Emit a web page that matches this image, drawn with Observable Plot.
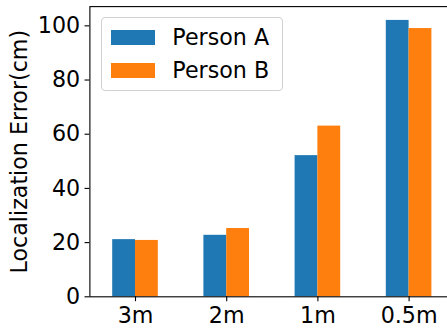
<!DOCTYPE html>
<html>
<head>
<meta charset="utf-8">
<script src="https://cdn.jsdelivr.net/npm/d3@7"></script>
<script src="https://cdn.jsdelivr.net/npm/@observablehq/plot@0.6"></script>
<style>
  html, body { margin: 0; padding: 0; background: white; overflow: hidden; }
  #chart { position: relative; width: 447px; height: 329px; }
  .legend {
    position: absolute; left: 100.5px; top: 17.2px;
    width: 182px; height: 73.7px; box-sizing: border-box;
    padding: 8.1px 0 0 9px;
    border: 1px solid #d0d0d0; border-radius: 4px;
    background: rgba(255,255,255,0.8);
    font-family: "DejaVu Sans", sans-serif; font-size: 22.2px; color: #000;
  }
  .legend .row { display: flex; align-items: center; height: 22px; line-height: 22px; }
  .legend .row + .row { margin-top: 11px; }
  .legend .swatch { width: 44px; height: 15.5px; margin-right: 17.8px; flex: none; }
</style>
</head>
<body>
<div id="chart"></div>
<script>
// Distance settings along the x axis
const categories = ["3m", "2m", "1m", "0.5m"];
const series = ["Person A", "Person B"];
// Localization error in cm, one value per distance
const personA = [21.1, 22.7, 52.1, 102.0];
const personB = [20.8, 25.2, 63.0, 99.0];
const colors = ["#1f77b4", "#ff7f0e"];
const yTicks = [0, 20, 40, 60, 80, 100];

const valuesBySeries = [personA, personB];
const barWidth = 0.25; // each bar takes a quarter of a category slot

const rows = categories.flatMap((cat, i) =>
  series.map((s, j) => ({
    cat, series: s, value: valuesBySeries[j][i],
    x1: i - barWidth + j * barWidth,
    x2: i + j * barWidth
  }))
);

const yMax = d3.max(rows, d => d.value) * 1.05;

const plot = Plot.plot({
  width: 447,
  height: 329,
  marginLeft: 89.4,
  marginRight: -7.2,
  marginTop: 6.1,
  marginBottom: 32.7,
  style: { fontFamily: "DejaVu Sans, sans-serif", fontSize: "22.2px", background: "white", color: "#000" },
  x: { type: "linear", domain: [-0.5, categories.length - 0.5] },
  y: { domain: [0, yMax] },
  color: { domain: series, range: colors },
  marks: [
    Plot.rectY(rows, { x1: "x1", x2: "x2", y1: 0, y2: "value", fill: "series" }),
    Plot.frame({ stroke: "#000", strokeWidth: 1.1 }),
    Plot.axisX({
      ticks: d3.range(categories.length),
      tickFormat: i => categories[i],
      tickSize: 4.86, tickPadding: 5.7, label: null, strokeWidth: 1.1
    }),
    Plot.axisY({
      ticks: yTicks, tickSize: 4.86, tickPadding: 4.86, label: null, strokeWidth: 1.1
    }),
    Plot.text(["Localization Error(cm)"], {
      frameAnchor: "left", textAnchor: "middle", rotate: -90, dx: -70, fill: "#000", fontSize: 22.2
    })
  ]
});

const chart = document.getElementById("chart");
chart.appendChild(plot);

// Legend drawn over the plot area, colours taken from the plot's color scale
const color = plot.scale("color");
const legend = document.createElement("div");
legend.className = "legend";
color.domain.forEach((name, k) => {
  const row = document.createElement("div");
  row.className = "row";
  const sw = document.createElement("span");
  sw.className = "swatch";
  sw.style.background = color.range[k];
  const label = document.createElement("span");
  label.textContent = name;
  row.appendChild(sw);
  row.appendChild(label);
  legend.appendChild(row);
});
chart.appendChild(legend);
</script>
</body>
</html>
